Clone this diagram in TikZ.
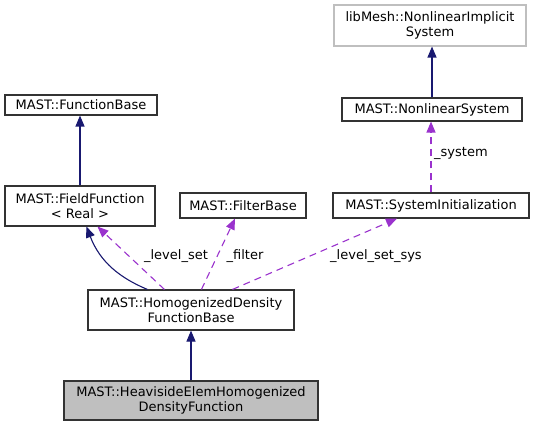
\documentclass[tikz,border=0pt]{standalone}
\usepackage{fontspec}
\setmainfont{DejaVu Sans}
\usetikzlibrary{arrows.meta}
\definecolor{navyc}{HTML}{191970}
\definecolor{purpc}{HTML}{9A32CD}
\definecolor{grayb}{HTML}{BFBFBF}
\begin{document}
\begin{tikzpicture}[x=1pt,y=-1pt,
  every node/.style={font=\fontsize{13}{15}\selectfont},
  cls/.style={draw=black!80, line width=1.1pt, inner sep=0pt, align=center, fill=white},
  ext/.style={cls, draw=grayb},
  cur/.style={cls, fill=grayb},
  inh/.style={draw=navyc, line width=1.1pt, -{Triangle[length=11pt,width=9pt]}},
  usg/.style={draw=purpc, line width=1.1pt, dash pattern=on 7pt off 5pt, -{Triangle[length=11pt,width=9pt]}},
  lbl/.style={inner sep=0pt}]
\useasboundingbox (0,0) rectangle (534,427);
\node[ext, minimum width=192pt, minimum height=41pt] (LM) at (430,25.5) {libMesh::NonlinearImplicit\\System};
\node[cls, minimum width=180pt, minimum height=23pt] (NLS) at (432,109.5) {MAST::NonlinearSystem};
\node[cls, minimum width=152pt, minimum height=20pt] (FB) at (81,105) {MAST::FunctionBase};
\node[cls, minimum width=150pt, minimum height=40pt] (FF) at (80,206) {MAST::FieldFunction\\\textless{} Real \textgreater{}};
\node[cls, minimum width=126pt, minimum height=25pt] (FLT) at (243,205.5) {MAST::FilterBase};
\node[cls, minimum width=196pt, minimum height=25pt] (SI) at (431,205.5) {MAST::SystemInitialization};
\node[cls, minimum width=206pt, minimum height=40pt] (HB) at (191,310) {MAST::HomogenizedDensity\\FunctionBase};
\node[cur, minimum width=254pt, minimum height=39pt] (HV) at (191,400.5) {MAST::HeavisideElemHomogenized\\DensityFunction};

\draw[inh] (FF.north) -- (FF.north |- FB.south);
\draw[inh] (NLS.north) -- (NLS.north |- LM.south);
\draw[usg] (SI.north) -- (SI.north |- NLS.south);
\node[lbl, anchor=west] (Lsys) at (434,153) {\_system};
\draw[inh] (HV.north) -- (HB.south);
\draw[inh] ([xshift=60pt]HB.north west) .. controls (120,278) and (100,262) .. ([xshift=82pt]FF.south west);
\draw[usg] ([xshift=77pt]HB.north west) -- ([xshift=93pt]FF.south west);
\node[lbl] (Lls) at (176,256) {\_level\_set};
\draw[usg] ([xshift=114pt]HB.north west) -- ([xshift=-8pt]FLT.south);
\node[lbl] (Lf) at (245,256) {\_filter};
\draw[usg] ([xshift=145pt]HB.north west) -- ([xshift=-34pt]SI.south);
\node[lbl] (Llss) at (376,256) {\_level\_set\_sys};
\end{tikzpicture}
\end{document}
